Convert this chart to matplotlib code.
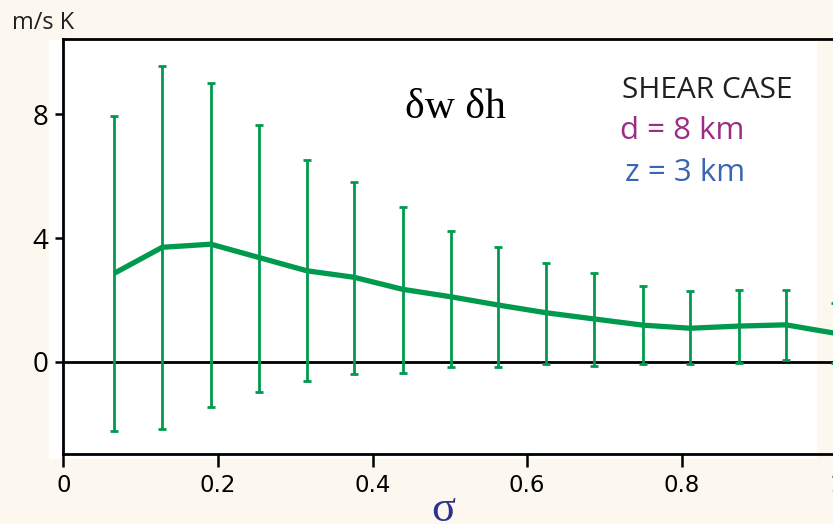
import numpy as np
import matplotlib
matplotlib.use("Agg")
import matplotlib.pyplot as plt
from matplotlib.patches import Rectangle

# values
sigma = [0.066, 0.128, 0.191, 0.253, 0.315, 0.376, 0.439, 0.501,
         0.563, 0.625, 0.687, 0.750, 0.811, 0.874, 0.935, 0.998]
mean = [2.86, 3.70, 3.80, 3.37, 2.94, 2.73, 2.34, 2.10,
        1.83, 1.58, 1.38, 1.18, 1.08, 1.15, 1.19, 0.92]
bar_top = [7.96, 9.57, 9.01, 7.65, 6.52, 5.81, 5.01, 4.23,
           3.70, 3.20, 2.87, 2.45, 2.27, 2.32, 2.32, 1.90]
bar_bottom = [-2.25, -2.19, -1.47, -0.98, -0.63, -0.41, -0.38, -0.18,
              -0.19, -0.08, -0.15, -0.08, -0.08, -0.05, 0.05, -0.05]

xticks = [0, 0.2, 0.4, 0.6, 0.8, 1.0]
xticklabels = ["0", "0.2", "0.4", "0.6", "0.8", "1"]
yticks = [0, 4, 8]

green = "#009a4e"
cream = "#fdf8ef"

fig = plt.figure(figsize=(8.33, 5.24), dpi=100, facecolor=cream)
# white panel behind the plot
fig.patches.append(Rectangle((0.0588, 0.124), 0.981 - 0.0588, 0.924 - 0.124,
                             transform=fig.transFigure, facecolor="white",
                             edgecolor="none", zorder=-5))

xmax = 1.05
ax = fig.add_axes([63.3 / 833, 0.133, xmax * 773 / 833, 0.7925])
ax.set_zorder(1)
ax.patch.set_alpha(0)
ax.set_xlim(0, xmax)
ax.set_ylim(-3.0, 10.44)

m = np.array(mean)
yerr = [m - np.array(bar_bottom), np.array(bar_top) - m]
ax.errorbar(sigma, mean, yerr=yerr, fmt="none", ecolor=green, elinewidth=2,
            capsize=2.8, capthick=2, zorder=3)
ax.plot(sigma, mean, color=green, lw=3.8, solid_capstyle="butt", zorder=4)
ax.axhline(0, color="black", lw=2, zorder=2)

for s in ["left", "top", "bottom"]:
    ax.spines[s].set_linewidth(2)
ax.spines["right"].set_visible(False)

ax.set_xticks(xticks)
ax.set_xticklabels(xticklabels, fontfamily="DejaVu Sans", fontsize=16.5)
ax.set_yticks(yticks)
ax.set_yticklabels([str(v) for v in yticks], fontfamily="Open Sans", fontsize=20)
ax.tick_params(axis="x", length=9.5, width=1.8, pad=5)
ax.tick_params(axis="y", length=6, width=1.8, pad=5)

fig.text(12 / 833, 1 - 11 / 524, "m/s K", fontfamily="Open Sans", fontsize=17,
         color="#222222", ha="left", va="top")
fig.text(455 / 833, 1 - 108 / 524, "\u03b4w \u03b4h",
         fontfamily="Liberation Serif", fontsize=30, ha="center", va="center")
fig.text(622 / 833, 1 - 90 / 524, "SHEAR CASE", fontfamily="Open Sans",
         fontsize=21.5, color="#231f20", ha="left", va="center")
fig.text(620 / 833, 1 - 131 / 524, "d = 8 km", fontfamily="Open Sans",
         fontsize=22.5, color="#9b2d84", ha="left", va="center")
fig.text(625 / 833, 1 - 173 / 524, "z = 3 km", fontfamily="Open Sans",
         fontsize=22.5, color="#3a64b4", ha="left", va="center")
fig.text(443 / 833, 3 / 524, "\u03c3", fontfamily="Liberation Serif",
         fontsize=32, color="#2e3192", ha="center", va="baseline")

fig.savefig("out.png", dpi=100, facecolor=cream)
